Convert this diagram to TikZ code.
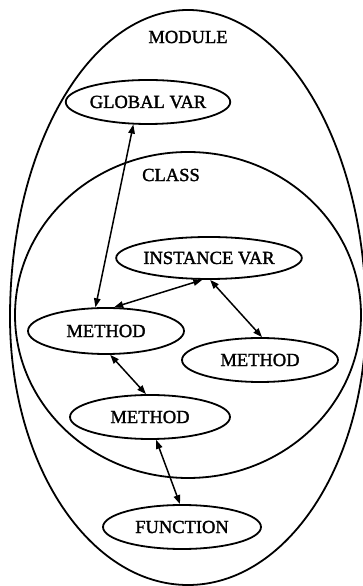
\documentclass[tikz,border=0pt]{standalone}
\usepackage{fontspec}
\setmainfont{Liberation Serif}[BoldFont=Liberation Serif, BoldFeatures={FakeBold=1.6}]
\usetikzlibrary{shapes.geometric,arrows.meta}
\tikzset{
  ent/.style={draw, ellipse, line width=1.8pt, inner sep=0pt,
    minimum width=158pt, minimum height=44pt,
    font=\fontsize{18.5}{20}\selectfont\bfseries},
  lbl/.style={inner sep=0pt, font=\fontsize{18.5}{20}\selectfont\bfseries},
  link/.style={line width=1.5pt, {Triangle[length=9pt,width=6.5pt]}-{Triangle[length=9pt,width=6.5pt]}},
  bound/.style={line width=1.8pt}
}
\begin{document}
\begin{tikzpicture}[x=1pt,y=1pt]
\useasboundingbox (0,0) rectangle (363,586);
% module boundary
\draw[bound] (10,269) arc[start angle=180,end angle=0,x radius=178pt,y radius=307pt]
  arc[start angle=0,end angle=-180,x radius=178pt,y radius=268pt];
% class boundary
\draw[bound] (188,271) ellipse[x radius=173pt,y radius=163pt];
\node[lbl] (modlbl) at (188,549) {MODULE};
\node[lbl] (clslbl) at (171,411) {CLASS};
\node[ent] (gv) at (148,484) {GLOBAL VAR};
\node[ent, minimum width=160pt, minimum height=42pt] (iv) at (209,328) {INSTANCE VAR};
\node[ent, minimum width=156pt, minimum height=46pt] (m1) at (106,255) {METHOD};
\node[ent, minimum width=156pt] (m2) at (260,226) {METHOD};
\node[ent, minimum width=160pt] (m3) at (150,169) {METHOD};
\node[ent] (fn) at (182,59) {FUNCTION};
\draw[link] (gv.237) -- (m1.114);
\draw[link] (iv.253) -- (m1.71);
\draw[link] (iv.273) -- (m2.85);
\draw[link] (m1.280) -- (m3.100);
\draw[link] (m3.285) -- (fn.95);
\end{tikzpicture}
\end{document}
